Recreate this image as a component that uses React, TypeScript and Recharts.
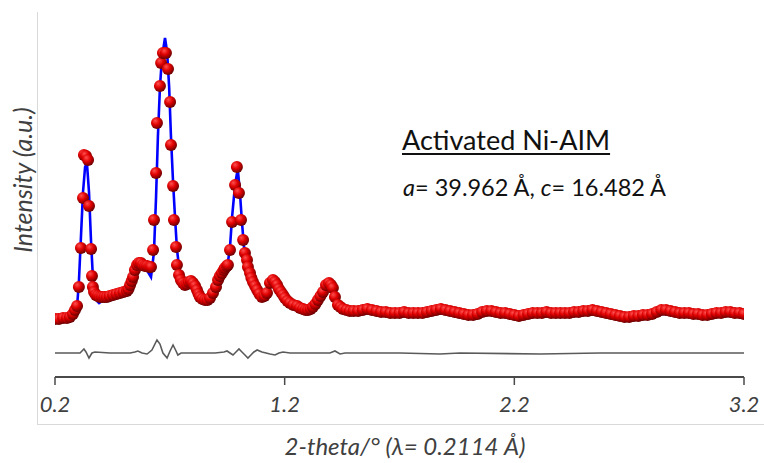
import { ComposedChart, Scatter, Line, XAxis, YAxis } from 'recharts'

// observed pattern (red spheres)
const obsTheta = [
  0.2, 0.217, 0.235, 0.252, 0.265, 0.278, 0.287, 0.296, 0.304, 0.313, 0.322, 0.326, 0.335, 0.344, 0.348,
  0.357, 0.361, 0.365, 0.37, 0.378, 0.387, 0.396, 0.405, 0.415, 0.426, 0.438, 0.453, 0.468, 0.483, 0.498,
  0.513, 0.52, 0.527, 0.534, 0.54, 0.548, 0.557, 0.565, 0.574, 0.583, 0.592, 0.601, 0.61, 0.618, 0.627,
  0.631, 0.64, 0.644, 0.657, 0.662, 0.67, 0.683, 0.692, 0.701, 0.705, 0.714, 0.718, 0.727, 0.731, 0.74,
  0.748, 0.757, 0.766, 0.775, 0.783, 0.792, 0.801, 0.81, 0.818, 0.825, 0.831, 0.842, 0.853, 0.864, 0.875,
  0.888, 0.901, 0.91, 0.918, 0.927, 0.935, 0.94, 0.948, 0.953, 0.962, 0.971, 0.984, 0.992, 1.001, 1.01,
  1.019, 1.027, 1.036, 1.04, 1.049, 1.055, 1.062, 1.071, 1.08, 1.09, 1.101, 1.112, 1.123, 1.136, 1.149,
  1.158, 1.167, 1.175, 1.184, 1.193, 1.201, 1.212, 1.223, 1.238, 1.254, 1.267, 1.28, 1.291, 1.302, 1.313,
  1.323, 1.334, 1.345, 1.356, 1.367, 1.38, 1.393, 1.402, 1.41, 1.419, 1.432, 1.443, 1.454, 1.469, 1.484,
  1.5, 1.52, 1.54, 1.56, 1.58, 1.6, 1.62, 1.64, 1.66, 1.68, 1.7, 1.72, 1.74, 1.76, 1.78,
  1.8, 1.82, 1.84, 1.86, 1.88, 1.9, 1.92, 1.94, 1.96, 1.98, 2.0, 2.02, 2.04, 2.06, 2.08,
  2.1, 2.12, 2.14, 2.16, 2.18, 2.2, 2.22, 2.24, 2.26, 2.28, 2.3, 2.32, 2.34, 2.36, 2.38,
  2.4, 2.42, 2.44, 2.46, 2.48, 2.5, 2.52, 2.54, 2.56, 2.58, 2.6, 2.62, 2.64, 2.66, 2.68,
  2.7, 2.72, 2.74, 2.76, 2.78, 2.8, 2.82, 2.84, 2.86, 2.88, 2.9, 2.92, 2.94, 2.96, 2.98,
  3.0, 3.02, 3.04, 3.06, 3.08, 3.1, 3.12, 3.14, 3.16, 3.18, 3.2,
]
const obsIntensity = [
  58, 58, 59, 59, 60, 63, 67, 71, 90, 129, 179, 222, 221, 217, 171,
  128, 101, 90, 85, 82, 81, 80, 80, 80, 80, 81, 82, 83, 84, 85,
  86, 88, 92, 96, 100, 107, 112, 114, 114, 112, 111, 111, 110, 110, 127,
  157, 204, 254, 291, 314, 324, 324, 308, 275, 232, 191, 157, 130, 112, 102,
  97, 94, 92, 93, 95, 96, 94, 91, 87, 83, 80, 78, 77, 77, 79,
  84, 90, 97, 101, 104, 107, 109, 111, 112, 127, 155, 192, 210, 184, 157,
  137, 124, 117, 110, 104, 99, 95, 91, 87, 83, 80, 81, 84, 94, 97,
  95, 92, 88, 85, 82, 79, 76, 74, 72, 71, 69, 68, 67, 67, 68,
  70, 73, 77, 81, 85, 92, 94, 92, 89, 80, 72, 70, 68, 67, 66,
  66, 66, 67, 68, 67, 66, 65, 65, 64, 64, 64, 65, 64, 64, 64,
  64, 65, 66, 67, 68, 67, 66, 65, 64, 63, 62, 62, 63, 65, 66,
  66, 65, 64, 64, 63, 62, 61, 62, 63, 64, 64, 64, 65, 64, 64,
  64, 64, 64, 65, 65, 66, 66, 67, 66, 65, 64, 63, 62, 61, 60,
  60, 61, 61, 62, 62, 63, 65, 67, 67, 66, 65, 64, 64, 64, 63,
  63, 62, 62, 63, 64, 64, 65, 65, 64, 64, 63,
]

// calculated profile (blue line)
const calcTheta = [
  0.2, 0.278, 0.296, 0.304, 0.313, 0.322, 0.331, 0.339, 0.348, 0.357, 0.365, 0.374, 0.383, 0.392, 0.405,
  0.426, 0.453, 0.483, 0.513, 0.527, 0.54, 0.557, 0.57, 0.587, 0.605, 0.618, 0.631, 0.64, 0.648, 0.657,
  0.666, 0.679, 0.688, 0.697, 0.705, 0.714, 0.723, 0.731, 0.74, 0.753, 0.766, 0.788, 0.801, 0.818, 0.831,
  0.853, 0.875, 0.901, 0.927, 0.944, 0.953, 0.962, 0.971, 0.984, 0.992, 0.997, 1.005, 1.014, 1.023, 1.032,
  1.04, 1.049, 1.062, 1.08, 1.101, 1.123, 1.136, 1.149, 1.167, 1.184, 1.201, 1.223, 1.254, 1.302, 1.345,
  1.38, 1.393, 1.41, 1.432, 1.484, 1.6, 1.8, 2.0, 2.2, 2.4, 2.6, 2.8, 3.0, 3.2,
]
const calcIntensity = [
  58, 62, 70, 95, 140, 185, 210, 214, 185, 135, 100, 82, 76, 74, 76,
  78, 80, 83, 86, 92, 100, 110, 113, 110, 105, 100, 125, 180, 240, 290,
  320, 339, 325, 290, 240, 195, 158, 128, 110, 97, 93, 94, 93, 87, 80,
  77, 79, 89, 103, 110, 115, 130, 160, 192, 203, 205, 185, 155, 130, 118,
  110, 104, 95, 87, 81, 85, 94, 97, 92, 85, 79, 74, 71, 67, 77,
  92, 94, 89, 72, 66, 66, 64, 63, 62, 64, 64, 63, 63, 63,
]

// difference curve (offset below)
const diffTheta = [
  0.2, 0.309, 0.326, 0.335, 0.348, 0.361, 0.374, 0.439, 0.527, 0.548, 0.561, 0.579, 0.601, 0.622, 0.644,
  0.657, 0.67, 0.688, 0.701, 0.714, 0.727, 0.735, 0.749, 0.81, 0.897, 0.936, 0.949, 0.962, 0.975, 0.988,
  1.001, 1.014, 1.027, 1.04, 1.053, 1.066, 1.08, 1.101, 1.119, 1.136, 1.158, 1.175, 1.193, 1.223, 1.31,
  1.397, 1.419, 1.441, 1.463, 1.702, 1.876, 1.963, 2.312, 2.573, 3.2,
]
const diffIntensity = [
  24, 24, 28, 25, 19, 24, 25, 24, 24, 25, 26, 24, 23, 27, 37,
  33, 24, 19, 26, 32, 26, 22, 24, 24, 24, 25, 26, 24, 22, 25,
  28, 25, 22, 19, 22, 25, 27, 25, 24, 23, 22, 24, 25, 24, 24,
  24, 26, 23, 24, 24, 23, 24, 23, 24, 24,
]

const xTicks = [0.2, 1.2, 2.2, 3.2]

const obsData = obsTheta.map((t, i) => ({ t, obs: obsIntensity[i] }))
const calcData = calcTheta.map((t, i) => ({ t, calc: calcIntensity[i] }))
const diffData = diffTheta.map((t, i) => ({ t, diff: diffIntensity[i] }))

const font = 'Lato, "Open Sans", sans-serif'
const axisGrey = '#4a4a4a'

const Ball = (props: any) => {
  const { cx, cy } = props
  if (cx == null || cy == null) return null
  return <circle cx={cx} cy={cy} r={6} fill='url(#redBall)' />
}

export default function App() {
  return (
    <div
      style={{
        position: 'absolute',
        left: 0,
        top: 0,
        width: 764,
        height: 463,
        background: '#fff',
        fontFamily: font,
      }}
    >
      {/* faint frame, left and bottom only */}
      <div
        style={{
          position: 'absolute',
          left: 37,
          top: 12,
          width: 727,
          height: 412,
          borderLeft: '1px solid #d9d9d9',
          borderBottom: '1px solid #d9d9d9',
        }}
      />
      <ComposedChart
        width={764}
        height={463}
        margin={{ top: 23, right: 20, bottom: 46, left: 55 }}
        style={{ position: 'absolute', left: 0, top: 0 }}
      >
        <defs>
          <radialGradient id='redBall' cx='40%' cy='35%' r='65%' fx='35%' fy='30%'>
            <stop offset='0%' stopColor='#ff5050' />
            <stop offset='50%' stopColor='#e00000' />
            <stop offset='100%' stopColor='#6a0000' />
          </radialGradient>
        </defs>
        <XAxis
          dataKey='t'
          type='number'
          domain={[0.2, 3.2]}
          ticks={xTicks}
          tickFormatter={(v: number) => v.toFixed(1)}
          height={40}
          tickSize={8}
          tickMargin={11}
          axisLine={{ stroke: axisGrey, strokeWidth: 2 }}
          tickLine={{ stroke: axisGrey, strokeWidth: 1.5 }}
          tick={{ fill: '#404040', fontSize: 22, fontStyle: 'italic', fontFamily: font }}
          allowDataOverflow
        />
        <YAxis
          type='number'
          domain={[0, 354]}
          width={0}
          tick={false}
          tickLine={false}
          axisLine={{ stroke: axisGrey, strokeWidth: 2 }}
          allowDataOverflow
        />
        <Line
          data={diffData}
          dataKey='diff'
          type='linear'
          stroke='#5a5a5a'
          strokeWidth={1.6}
          dot={false}
          isAnimationActive={false}
        />
        <Line
          data={calcData}
          dataKey='calc'
          type='linear'
          stroke='#0000ff'
          strokeWidth={2.6}
          dot={false}
          isAnimationActive={false}
        />
        <Scatter data={obsData} dataKey='obs' shape={Ball} isAnimationActive={false} />
      </ComposedChart>

      <div
        style={{
          position: 'absolute',
          left: 22,
          top: 180,
          transform: 'translate(-50%, -50%) rotate(-90deg)',
          whiteSpace: 'nowrap',
          fontSize: 25,
          fontStyle: 'italic',
          color: '#404040',
          lineHeight: 1,
        }}
      >
        Intensity (a.u.)
      </div>
      <div
        style={{
          position: 'absolute',
          left: 405,
          top: 446,
          transform: 'translate(-50%, -50%)',
          whiteSpace: 'nowrap',
          fontSize: 24,
          fontStyle: 'italic',
          color: '#404040',
          lineHeight: 1,
        }}
      >
        2-theta/° (λ= 0.2114 Å)
      </div>
      <div
        style={{
          position: 'absolute',
          left: 402,
          top: 126,
          whiteSpace: 'nowrap',
          fontSize: 27,
          color: '#111',
          lineHeight: 1,
          textDecoration: 'underline',
          textDecorationThickness: 2,
          textUnderlineOffset: 3,
        }}
      >
        Activated Ni-AIM
      </div>
      <div
        style={{
          position: 'absolute',
          left: 403,
          top: 176,
          whiteSpace: 'nowrap',
          fontSize: 23.5,
          color: '#111',
          lineHeight: 1,
        }}
      >
        <i>a</i>= 39.962 Å, <i>c</i>= 16.482 Å
      </div>
    </div>
  )
}
